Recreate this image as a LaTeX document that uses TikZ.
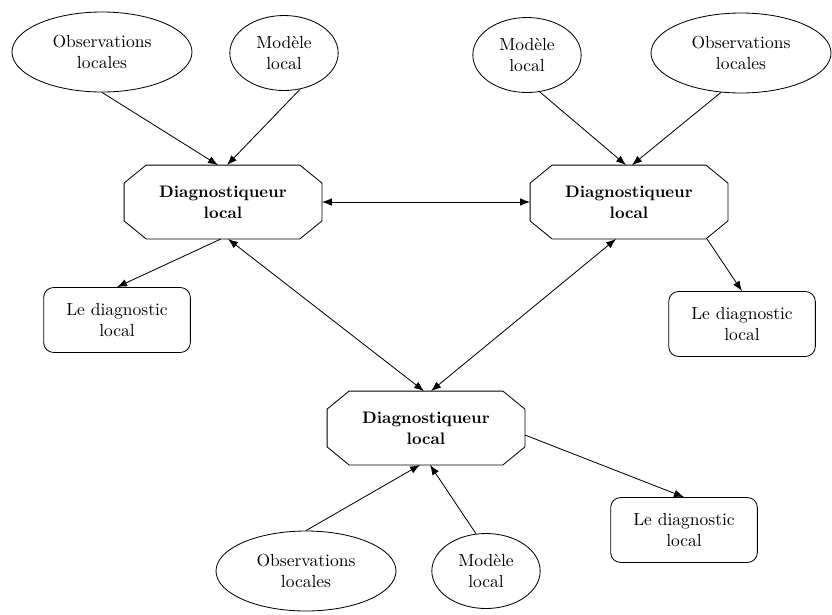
\documentclass[tikz,border=0pt]{standalone}
\usetikzlibrary{shapes.geometric,arrows.meta,calc}
\newcommand{\octdraw}[1]{%
  \draw ($(#1.north west)+(22,0)$) -- ($(#1.north east)+(-22,0)$) -- ($(#1.north east)+(0,18)$)
    -- ($(#1.south east)+(0,-18)$) -- ($(#1.south east)+(-22,0)$) -- ($(#1.south west)+(22,0)$)
    -- ($(#1.south west)+(0,-18)$) -- ($(#1.north west)+(0,18)$) -- cycle;}
\begin{document}
\begin{tikzpicture}[x=0.6pt,y=-0.6pt, line width=0.5pt,
  every node/.style={font=\fontsize{10.5}{12.5}\selectfont, align=center, inner sep=0pt},
  obsell/.style={draw, ellipse, minimum width=108pt, minimum height=48pt},
  modell/.style={draw, ellipse, minimum width=65pt, minimum height=45pt},
  diagbox/.style={rectangle, minimum width=118.2pt, minimum height=43.8pt, font=\fontsize{10}{12.5}\selectfont\bfseries},
  resbox/.style={draw, rounded corners=6pt, minimum width=88pt, minimum height=39pt},
  arr/.style={-{Latex[length=6pt,width=4.5pt]}},
  darr/.style={{Latex[length=6pt,width=4.5pt]}-{Latex[length=6pt,width=4.5pt]}}
]
\useasboundingbox (0,0) rectangle (832,614);
% top-left group
\node[obsell] (obs1) at (102,52) {Observations\\locales};
\node[modell] (mod1) at (284,53) {Modèle\\local};
\node[diagbox] (diag1) at (223,202) {Diagnostiqueur\\local};
\node[resbox] (res1) at (117,320) {Le diagnostic\\local};
% top-right group
\node[modell] (mod2) at (527,55) {Modèle\\local};
\node[obsell] (obs2) at (741,53) {Observations\\locales};
\node[diagbox] (diag2) at (629,202) {Diagnostiqueur\\local};
\node[resbox] (res2) at (742,324) {Le diagnostic\\local};
% bottom group
\node[diagbox] (diag3) at (426,428) {Diagnostiqueur\\local};
\node[resbox] (res3) at (684,530) {Le diagnostic\\local};
\node[obsell] (obs3) at (306,571) {Observations\\locales};
\node[modell] (mod3) at (486,571) {Modèle\\local};
\octdraw{diag1}
\octdraw{diag2}
\octdraw{diag3}
% connectors
\draw[arr] (obs1.south) -- ($(diag1.north)+(-5,0)$);
\draw[arr] (mod1.-66) -- ($(diag1.north)+(4,0)$);
\draw[arr] (mod2.-71) -- ($(diag2.north)+(-3,0)$);
\draw[arr] (obs2.-117) -- ($(diag2.north)+(3,0)$);
\draw[darr] (diag1.east) -- (diag2.west);
\draw[arr] ($(diag1.south)+(-2,0)$) -- (res1.north);
\draw[darr] ($(diag1.south)+(5,0)$) -- ($(diag3.north)+(-2,0)$);
\draw[darr] ($(diag2.south)+(-13,0)$) -- ($(diag3.north)+(5,0)$);
\draw[arr] ($(diag2.south)+(78,0)$) -- (res2.north);
\draw[arr] ($(diag3.east)+(0,7)$) -- (res3.north);
\draw[arr] (obs3.north) -- ($(diag3.south)+(-6,0)$);
\draw[arr] (mod3.105) -- ($(diag3.south)+(4,0)$);
\end{tikzpicture}
\end{document}
